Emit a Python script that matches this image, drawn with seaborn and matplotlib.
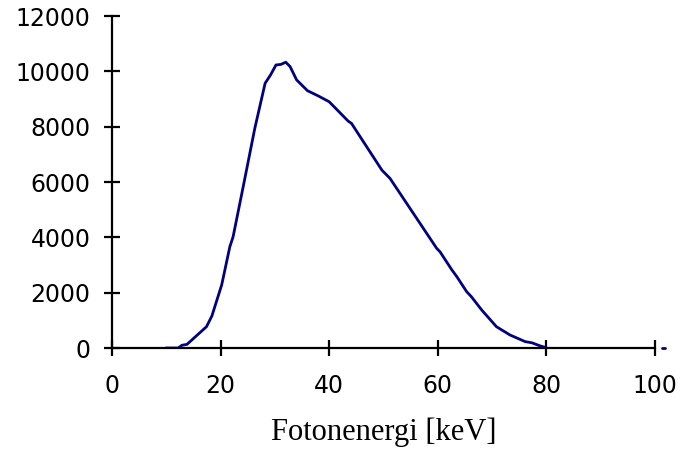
import pandas as pd
import matplotlib.pyplot as plt
import seaborn as sns

# Photon energy spectrum
energy = [9.9, 12.2, 12.9, 13.8, 17.4, 18.4, 20.2, 21.7, 22.3, 24.1, 26.3, 28.2,
          29.2, 30.2, 31.1, 32.0, 32.8, 34.0, 36.0, 38.0, 40.0, 43.5, 44.1, 49.7,
          51.2, 59.8, 60.4, 62.6, 63.5, 65.3, 66.2, 68.1, 70.8, 71.8, 73.3, 76.1,
          77.3, 78.8, 80.0]
counts = [0, 0, 100, 130, 770, 1160, 2280, 3660, 4020, 5770, 7940, 9570,
          9870, 10230, 10250, 10330, 10170, 9690, 9300, 9110, 8900, 8200, 8120, 6430,
          6130, 3600, 3480, 2820, 2580, 2040, 1850, 1370, 770, 650, 470, 230,
          190, 80, 10]

# small leftover piece of the series beyond the axis end
tail_energy = [101.2, 101.8]
tail_counts = [0, 0]

x_ticks = [0, 20, 40, 60, 80, 100]
y_ticks = [0, 2000, 4000, 6000, 8000, 10000, 12000]

spectrum = pd.DataFrame({'energy': energy, 'counts': counts})

sns.set_style('ticks')
plt.rcParams['font.family'] = ['DejaVu Sans']

fig = plt.figure(figsize=(6.83, 4.49), dpi=100)
ax = fig.add_axes([112 / 683, 1 - 348 / 449, (655 - 112) / 683, (348 - 16) / 449])

sns.lineplot(x='energy', y='counts', data=spectrum, color='#000080', linewidth=2.0, ax=ax)
ax.plot(tail_energy, tail_counts, color='#000080', linewidth=2.0, clip_on=False)

ax.set_xlim(0, 100)
ax.set_ylim(0, 12000)
ax.set_xticks(x_ticks)
ax.set_yticks(y_ticks)
ax.set_xticklabels([str(t) for t in x_ticks])
ax.set_yticklabels([str(t) for t in y_ticks])

sns.despine(ax=ax)
for side in ['left', 'bottom']:
    ax.spines[side].set_linewidth(1.6)
    ax.spines[side].set_color('black')
ax.tick_params(axis='both', direction='inout', length=11, width=1.6, colors='black', labelsize=17)
ax.tick_params(axis='x', pad=13)
ax.tick_params(axis='y', pad=10)

ax.set_ylabel('')
ax.set_xlabel('Fotonenergi [keV]', fontsize=22, family=['Liberation Serif'],
              color='black', labelpad=14)

plt.savefig('out.png', dpi=100)
